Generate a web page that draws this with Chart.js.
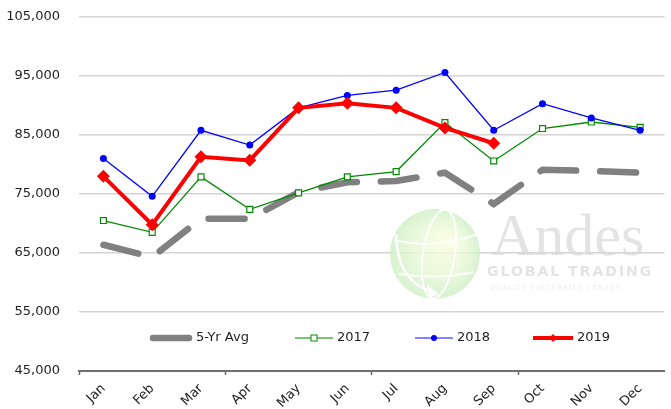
<!DOCTYPE html>
<html>
<head>
<meta charset="utf-8">
<script src="https://cdn.jsdelivr.net/npm/chart.js@4/dist/chart.umd.min.js"></script>
<style>
  body { margin: 0; background: #fff; }
  #chart { display: block; }
</style>
</head>
<body>
<canvas id="chart" width="671" height="409"></canvas>
<script>
// monthly volumes
const months = ['Jan', 'Feb', 'Mar', 'Apr', 'May', 'Jun', 'Jul', 'Aug', 'Sep', 'Oct', 'Nov', 'Dec'];
const avg5yr = [66400, 64300, 70800, 70800, 75300, 77000, 77200, 78600, 73300, 79100, 78900, 78600];
const y2017 = [70500, 68500, 77900, 72400, 75200, 77900, 78800, 87100, 80600, 86100, 87200, 86300];
const y2018 = [81000, 74600, 85800, 83300, 89600, 91700, 92600, 95600, 85800, 90300, 87900, 85800];
const y2019 = [78000, 69800, 81300, 80700, 89600, 90400, 89600, 86200, 83600];
const yTicks = { min: 45000, max: 105000, step: 10000 };

const FONT = '"DejaVu Sans", sans-serif';
const TEXT = '#1f1f1f';

// faint company logo behind the lines
const watermark = {
    id: 'watermark',
    beforeDatasetsDraw(chart) {
        const ctx = chart.ctx;
        ctx.save();
        const cx = 435, cy = 254, r = 45;
        const g = ctx.createRadialGradient(cx + 14, cy - 12, 4, cx, cy, r);
        g.addColorStop(0, 'rgba(248,253,222,0.8)');
        g.addColorStop(0.6, 'rgba(228,247,210,0.8)');
        g.addColorStop(1, 'rgba(205,238,198,0.8)');
        ctx.fillStyle = g;
        ctx.beginPath();
        ctx.arc(cx, cy, r, 0, Math.PI * 2);
        ctx.fill();
        // meridians / parallels
        ctx.strokeStyle = 'rgba(255,255,255,0.9)';
        ctx.lineWidth = 2;
        ctx.beginPath();
        ctx.ellipse(cx + 4, cy, 16, r, 0.15, 0, Math.PI * 2);
        ctx.stroke();
        ctx.beginPath();
        ctx.moveTo(cx - r + 4, cy - 14);
        ctx.quadraticCurveTo(cx, cy - 4, cx + r - 2, cy - 20);
        ctx.stroke();
        ctx.beginPath();
        ctx.moveTo(cx - r + 8, cy + 20);
        ctx.quadraticCurveTo(cx + 4, cy + 26, cx + r - 6, cy + 18);
        ctx.stroke();
        // swoosh arrow
        ctx.strokeStyle = 'rgba(255,255,255,0.95)';
        ctx.lineWidth = 2.5;
        ctx.beginPath();
        ctx.moveTo(cx - 39, cy - 20);
        ctx.quadraticCurveTo(cx - 38, cy + 28, cx - 2, cy + 38);
        ctx.stroke();
        ctx.fillStyle = 'rgba(255,255,255,0.95)';
        ctx.beginPath();
        ctx.moveTo(cx + 4, cy + 40);
        ctx.lineTo(cx - 8, cy + 31);
        ctx.lineTo(cx - 6, cy + 44);
        ctx.closePath();
        ctx.fill();

        ctx.fillStyle = 'rgba(218,218,218,0.75)';
        ctx.textBaseline = 'alphabetic';
        ctx.font = '60px "Liberation Serif", serif';
        ctx.fillText('Andes', 491, 255);
        ctx.font = 'bold 14px "DejaVu Sans", sans-serif';
        ctx.letterSpacing = '2px';
        ctx.fillText('GLOBAL TRADING', 487, 276);
        ctx.font = '7px "DejaVu Sans", sans-serif';
        ctx.letterSpacing = '1px';
        ctx.fillStyle = 'rgba(228,228,228,0.7)';
        ctx.fillText('QUALITY | INTEGRITY | TRUST', 490, 290);
        ctx.restore();
    }
};

// legend drawn inside the plot area, above the x axis
const innerLegend = {
    id: 'innerLegend',
    afterDraw(chart) {
        const ctx = chart.ctx;
        const starts = [150, 295, 415, 533];
        const lens = [42, 38, 38, 40];
        const y = 338;
        ctx.save();
        chart.data.datasets.forEach((ds, i) => {
            const x0 = starts[i], x1 = x0 + lens[i];
            const mx = (x0 + x1) / 2;
            ctx.strokeStyle = ds.legendColor || ds.borderColor;
            ctx.lineWidth = ds.borderWidth;
            ctx.lineCap = i === 0 ? 'round' : 'butt';
            ctx.beginPath();
            ctx.moveTo(x0 + (i === 0 ? 3 : 0), y);
            ctx.lineTo(x1 - (i === 0 ? 3 : 0), y);
            ctx.stroke();
            ctx.lineWidth = 1;
            ctx.strokeStyle = ds.borderColor;
            ctx.fillStyle = ds.pointBackgroundColor || ds.borderColor;
            if (ds.pointStyle === 'rect') {
                ctx.fillRect(mx - 3, y - 3, 6, 6);
                ctx.strokeRect(mx - 3, y - 3, 6, 6);
            } else if (ds.pointStyle === 'circle') {
                ctx.beginPath();
                ctx.arc(mx, y, 3, 0, Math.PI * 2);
                ctx.fill();
            } else if (ds.pointStyle === 'rectRot') {
                ctx.beginPath();
                ctx.moveTo(mx, y - 4);
                ctx.lineTo(mx + 4, y);
                ctx.lineTo(mx, y + 4);
                ctx.lineTo(mx - 4, y);
                ctx.closePath();
                ctx.fill();
            }
            ctx.fillStyle = TEXT;
            ctx.font = '13px ' + FONT;
            ctx.textBaseline = 'middle';
            ctx.fillText(ds.label, x1 + 4, y);
        });
        ctx.restore();
    }
};

new Chart(document.getElementById('chart'), {
    type: 'line',
    data: {
        labels: months,
        datasets: [
            {
                label: '5-Yr Avg',
                data: avg5yr,
                borderColor: '#808080',
                borderWidth: 6.5,
                borderDash: [36, 24],
                borderCapStyle: 'round',
                pointRadius: 0,
                order: 4
            },
            {
                label: '2017',
                data: y2017,
                borderColor: '#008a00',
                legendColor: '#4caf50',
                borderWidth: 1.3,
                pointStyle: 'rect',
                pointRadius: 4.2,
                pointBorderWidth: 1.2,
                pointBackgroundColor: '#ffffff',
                pointBorderColor: '#008a00',
                order: 3
            },
            {
                label: '2018',
                data: y2018,
                borderColor: '#0000ff',
                legendColor: '#5b5bff',
                borderWidth: 1.3,
                pointStyle: 'circle',
                pointRadius: 3.5,
                pointBorderWidth: 0,
                pointBackgroundColor: '#0000ff',
                order: 2
            },
            {
                label: '2019',
                data: y2019,
                borderColor: '#ff0000',
                borderWidth: 4,
                pointStyle: 'rectRot',
                pointRadius: 6.5,
                pointBorderWidth: 0,
                pointBackgroundColor: '#ff0000',
                order: 1
            }
        ]
    },
    options: {
        responsive: false,
        animation: false,
        events: [],
        layout: { padding: { top: 17, right: -6, left: 0, bottom: 0 } },
        elements: { line: { tension: 0 } },
        plugins: {
            legend: { display: false },
            tooltip: { enabled: false }
        },
        scales: {
            x: {
                offset: true,
                afterFit: s => { s.height = 38; s.paddingLeft = 0; s.paddingRight = 0; },
                grid: {
                    offset: true,
                    drawOnChartArea: false,
                    drawTicks: true,
                    tickLength: 4,
                    tickWidth: 1.5,
                    tickColor: c => (c.index % 3 === 0 ? '#666666' : 'rgba(0,0,0,0)')
                },
                border: { color: '#6e6e6e', width: 2 },
                ticks: {
                    autoSkip: false,
                    minRotation: 45,
                    maxRotation: 45,
                    padding: 6,
                    color: TEXT,
                    font: { family: FONT, size: 13 }
                }
            },
            y: {
                min: yTicks.min,
                max: yTicks.max,
                afterFit: s => { s.width = 79; s.paddingTop = 0; s.paddingBottom = 0; },
                grid: {
                    color: '#d4d4d4',
                    lineWidth: 1.5,
                    drawTicks: false
                },
                border: { display: false },
                ticks: {
                    stepSize: yTicks.step,
                    padding: 19,
                    color: TEXT,
                    font: { family: FONT, size: 13 },
                    callback: v => v.toLocaleString('en-US')
                }
            }
        }
    },
    plugins: [watermark, innerLegend]
});
</script>
</body>
</html>
